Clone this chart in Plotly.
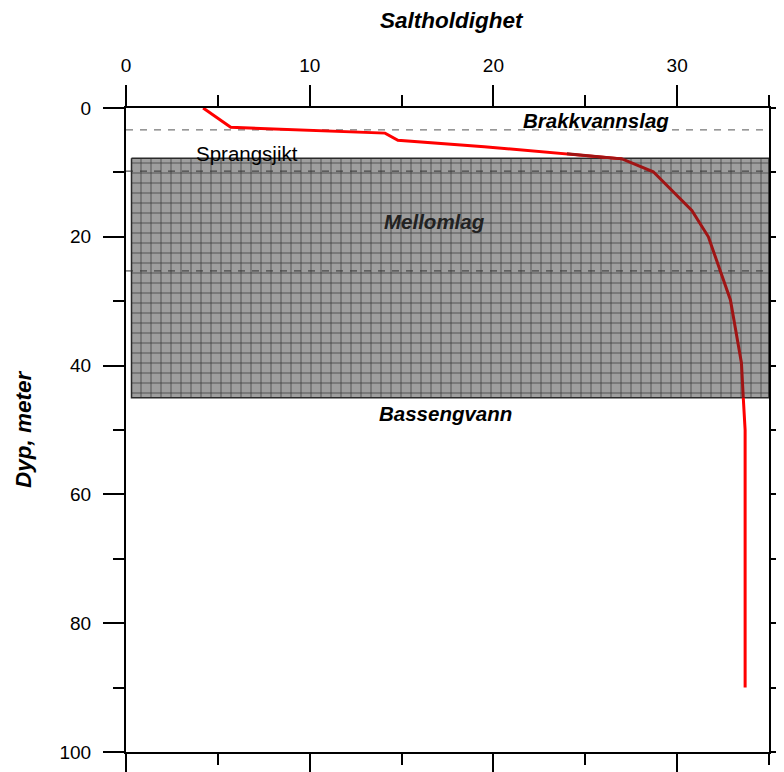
import plotly.graph_objects as go

# Salinity profile (Saltholdighet) vs depth (Dyp, meter)
salinity = [4.2, 5.7, 14.1, 14.8, 19.5, 24.0, 27.0, 28.7, 30.8, 31.7, 32.9, 33.5, 33.6, 33.7, 33.7]
depth = [0.0, 3.0, 3.9, 5.0, 6.0, 7.1, 7.9, 9.9, 15.9, 20.0, 29.8, 39.6, 45.0, 50.0, 90.0]

# Intermediate layer (Mellomlag) box
box_sal = [0.3, 35.0]
box_depth = [7.8, 45.0]

# Dashed layer boundaries
boundary_depths = [3.4, 9.8, 25.3]
boundary_colors = ["#555555", "#333333", "#333333"]

# Labels
label_text = ["<b><i>Brakkvannslag</i></b>", "Sprangsjikt", "<b><i>Mellomlag</i></b>", "<b><i>Bassengvann</i></b>"]
label_sal = [25.6, 6.6, 16.8, 17.4]
label_depth = [1.9, 7.0, 17.7, 47.4]
label_color = ["#000000", "#000000", "#222222", "#000000"]

x_range = [0, 35]
y_range = [100, 0]

FONT = "Liberation Sans, Arial, sans-serif"

# page is rendered with an 8px body margin
OFF = 8
W, H = 784 - OFF, 772 - OFF
PL, PT, PR, PB = 126, 108, 769, 752  # plot area in page pixels

fig = go.Figure()

# Grid-patterned box
fig.add_trace(go.Scatter(
    x=[box_sal[0], box_sal[1], box_sal[1], box_sal[0], box_sal[0]],
    y=[box_depth[0], box_depth[0], box_depth[1], box_depth[1], box_depth[0]],
    mode="lines", fill="toself",
    fillcolor="#9e9e9e",
    fillpattern=dict(shape="+", size=10, solidity=0.14, bgcolor="#9e9e9e", fgcolor="#383838", fillmode="replace"),
    line=dict(color="#2a2a2a", width=1.5),
    hoverinfo="skip", showlegend=False,
))

# Dashed boundaries
for d, c in zip(boundary_depths, boundary_colors):
    fig.add_trace(go.Scatter(
        x=x_range, y=[d, d], mode="lines",
        line=dict(color=c, width=1, dash="7px,7px"),
        hoverinfo="skip", showlegend=False,
    ))

# Profile: red outside box, dark red inside box
def segment(cond):
    xs, ys = [], []
    for s, d in zip(salinity, depth):
        if cond(d):
            xs.append(s); ys.append(d)
    return xs, ys

top_x, top_y = segment(lambda d: d <= box_depth[0] + 0.2)
mid_x, mid_y = segment(lambda d: box_depth[0] - 1 <= d <= box_depth[1])
bot_x, bot_y = segment(lambda d: d >= box_depth[1])

for xs, ys, col in [(top_x, top_y, "#ff0000"), (mid_x, mid_y, "#a01414"), (bot_x, bot_y, "#ff0000")]:
    fig.add_trace(go.Scatter(x=xs, y=ys, mode="lines", line=dict(color=col, width=3),
                             showlegend=False, hoverinfo="skip"))

# invisible trace for secondary axes
fig.add_trace(go.Scatter(x=[None], y=[None], xaxis="x2", yaxis="y2", showlegend=False))

for t, xs, ys, c in zip(label_text, label_sal, label_depth, label_color):
    fig.add_annotation(x=xs, y=ys, text=t, showarrow=False,
                       font=dict(family=FONT, size=20.5, color=c), xanchor="center", yanchor="middle")

pw, ph = PR - PL, PB - PT
fig.add_annotation(xref="paper", yref="paper", x=(452 - PL) / pw, y=(PB - 21) / ph,
                   text="<b><i>Saltholdighet</i></b>", showarrow=False,
                   xanchor="center", yanchor="middle",
                   font=dict(family=FONT, size=22.5, color="black"))
fig.add_annotation(xref="paper", yref="paper", x=(23 - PL) / pw, y=(PB - 429) / ph,
                   text="<b><i>Dyp, meter</i></b>", showarrow=False, textangle=-90,
                   xanchor="center", yanchor="middle",
                   font=dict(family=FONT, size=22.5, color="black"))

axis_common = dict(showgrid=False, zeroline=False, showline=True, linecolor="black", linewidth=2,
                   ticks="outside", tickcolor="black", tickwidth=2, automargin=False,
                   tickfont=dict(family=FONT, size=19, color="black"))

fig.update_layout(
    width=W, height=H,
    margin=dict(l=PL - OFF, r=784 - PR, t=PT - OFF, b=772 - PB, pad=0),
    paper_bgcolor="white", plot_bgcolor="white",
    font=dict(family=FONT, size=19, color="black"),
    showlegend=False,
    xaxis=dict(range=x_range, side="top", dtick=10, ticklen=21, ticklabelstandoff=5,
               minor=dict(dtick=5, ticklen=11, tickwidth=2, tickcolor="black", ticks="outside"),
               **axis_common),
    xaxis2=dict(range=x_range, overlaying="x", side="bottom", dtick=10, ticklen=20, showticklabels=False,
                minor=dict(dtick=5, ticklen=11, tickwidth=2, tickcolor="black", ticks="outside"),
                **axis_common),
    yaxis=dict(range=y_range, side="left", dtick=20, ticklen=21, ticklabelstandoff=8,
               minor=dict(dtick=10, ticklen=11, tickwidth=2, tickcolor="black", ticks="outside"),
               **axis_common),
    yaxis2=dict(range=y_range, overlaying="y", side="right", dtick=10, ticklen=12, showticklabels=False,
                **axis_common),
)

fig.write_html("out.html")
